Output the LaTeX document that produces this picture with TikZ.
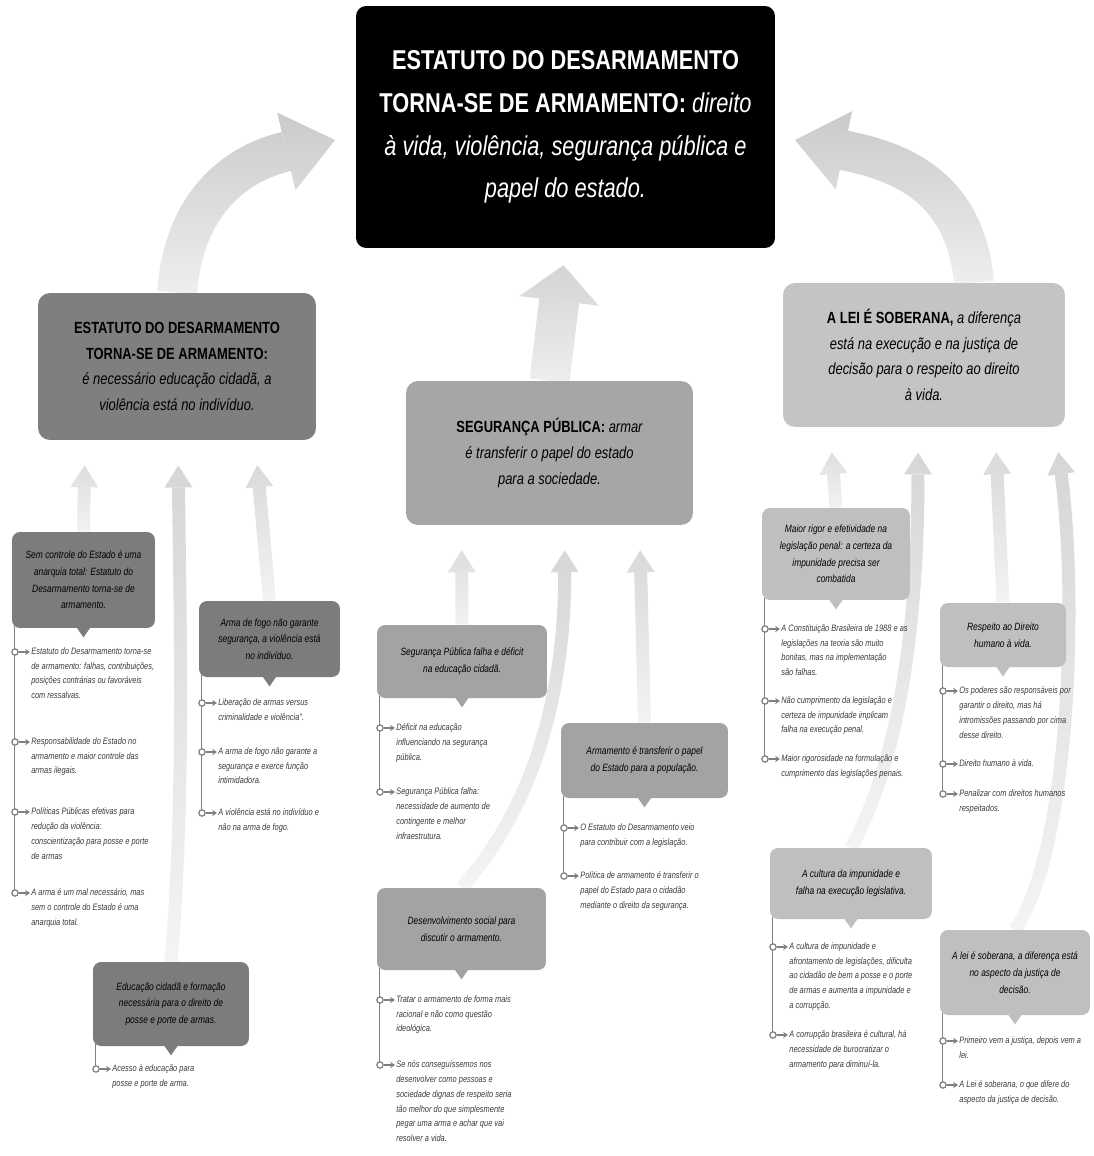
\documentclass[tikz,border=0pt]{standalone}
\usepackage{fontspec}
\setmainfont{Liberation Sans}[FakeStretch=0.8]
\usetikzlibrary{arrows.meta,calc,backgrounds,fadings}

\definecolor{leftfill}{HTML}{7F7F7F}
\definecolor{midfill}{HTML}{A6A6A6}
\definecolor{rightfill}{HTML}{C4C4C4}
\definecolor{subleft}{HTML}{7C7C7C}
\definecolor{submid}{HTML}{A3A3A3}
\definecolor{subright}{HTML}{BFBFBF}
\definecolor{arrowgray}{HTML}{CCCCCC}
\definecolor{linkgray}{HTML}{D4D4D4}
\definecolor{itemtext}{HTML}{3A3A3A}
\definecolor{stemgray}{HTML}{808080}

\tikzfading[name=upfade, top color=transparent!0, bottom color=transparent!75]

\tikzset{
  topbox/.style={fill=black, text=white, rounded corners=0.2cm, inner sep=0pt,
    minimum width=8.38cm, minimum height=4.84cm, align=center,
    font=\fontsize{15.5}{24.4}\selectfont},
  mainbox/.style={rounded corners=0.24cm, inner sep=0pt, align=center,
    minimum height=2.9cm, font=\fontsize{9.2}{14.7}\selectfont\itshape},
  subbox/.style={rounded corners=0.16cm, inner sep=0pt, align=center,
    font=\fontsize{6}{9.5}\selectfont\itshape},
  item/.style={anchor=north west, align=left, inner sep=0pt, text=itemtext,
    font=\fontsize{5.3}{8.5}\selectfont\itshape},
  stem/.style={draw=stemgray, line width=0.6pt},
  bul/.style={draw=stemgray, line width=0.7pt},
  bigarrow/.style={draw=arrowgray, line width=0.8cm, path fading=upfade,
    -{Triangle[length=1cm,width=1.6cm,line width=0pt]}},
  link/.style={draw=linkgray, line width=0.26cm, path fading=upfade,
    -{Triangle[length=0.44cm,width=0.56cm,line width=0pt]}, shorten >=0.5cm},
}

\begin{document}
\begin{tikzpicture}[x=0.02cm, y=-0.02cm]
  \useasboundingbox (0,0) rectangle (1093,1156);

  % main boxes
  \node[topbox] (tb) at (565.5,127) {\textbf{ESTATUTO DO DESARMAMENTO}\\\textbf{TORNA-SE DE ARMAMENTO:} \textit{direito}\\\textit{à vida, violência, segurança pública e}\\\textit{papel do estado.}};
  \node[mainbox, fill=leftfill, minimum width=5.56cm, minimum height=2.94cm] (lb) at (177,366.5) {\textup{\textbf{ESTATUTO DO DESARMAMENTO}}\\\textup{\textbf{TORNA-SE DE ARMAMENTO:}}\\é necessário educação cidadã, a\\violência está no indivíduo.};
  \node[mainbox, fill=midfill, minimum width=5.74cm, minimum height=2.88cm] (mb) at (549.5,453) {\textup{\textbf{SEGURANÇA PÚBLICA:}} armar\\é transferir o papel do estado\\para a sociedade.};
  \node[mainbox, fill=rightfill, minimum width=5.64cm, minimum height=2.88cm] (rb) at (924,355) {\textup{\textbf{A LEI É SOBERANA,}} a diferença\\está na execução e na justiça de\\decisão para o respeito ao direito\\à vida.};

  % sub boxes
  \node[subbox, fill=subleft, minimum width=2.86cm, minimum height=1.92cm] (s1) at (83.5,580) {Sem controle do Estado é uma\\anarquia total: Estatuto do\\Desarmamento torna-se de\\armamento.};
  \node[subbox, fill=subleft, minimum width=2.82cm, minimum height=1.52cm] (s2) at (269.5,639) {Arma de fogo não garante\\segurança, a violência está\\no indivíduo.};
  \node[subbox, fill=subleft, minimum width=3.12cm, minimum height=1.68cm] (s3) at (171,1004) {Educação cidadã e formação\\necessária para o direito de\\posse e porte de armas.};
  \node[subbox, fill=submid, minimum width=3.4cm, minimum height=1.46cm] (s4) at (462,661.5) {Segurança Pública falha e déficit\\na educação cidadã.};
  \node[subbox, fill=submid, minimum width=3.34cm, minimum height=1.5cm] (s5) at (644.5,760.5) {Armamento é transferir o papel\\do Estado para a população.};
  \node[subbox, fill=submid, minimum width=3.38cm, minimum height=1.64cm] (s6) at (461.5,929) {Desenvolvimento social para\\discutir o armamento.};
  \node[subbox, fill=subright, minimum width=2.96cm, minimum height=1.84cm] (s7) at (836,554) {Maior rigor e efetividade na\\legislação penal: a certeza da\\impunidade precisa ser\\combatida};
  \node[subbox, fill=subright, minimum width=2.52cm, minimum height=1.28cm] (s8) at (1003,635) {Respeito ao Direito\\humano à vida.};
  \node[subbox, fill=subright, minimum width=3.24cm, minimum height=1.42cm] (s9) at (851,883.5) {A cultura da impunidade e\\falha na execução legislativa.};
  \node[subbox, fill=subright, minimum width=3cm, minimum height=1.7cm] (s10) at (1015,972.5) {A lei é soberana, a diferença está\\no aspecto da justiça de\\decisão.};

  % pointers under the sub boxes
  \foreach \b/\c in {s1/subleft,s2/subleft,s3/subleft,s4/submid,s5/submid,s6/submid,s7/subright,s8/subright,s9/subright,s10/subright}
    \fill[\c] ($(\b.south)+(-7,-1)$) -- ($(\b.south)+(7,-1)$) -- ($(\b.south)+(0,9)$) -- cycle;

  % arrows behind everything
  \begin{scope}[on background layer]
    \draw[bigarrow] (lb.north) .. controls (185,190) and (250,160) .. (335,140);
    \draw[bigarrow] ($(rb.north)+(50,0)$) .. controls (965,180) and (890,160) .. (795,140);
    \draw[bigarrow, -{Triangle[length=0.72cm,width=1.6cm,line width=0pt]}, shorten >=0.34cm] (mb.north) -- (tb.south);

    \draw[link] (s1.north) -- ($(lb.south)+(-92,0)$);
    \draw[link] (s2.north) -- ($(lb.south)+(78,0)$);
    \draw[link] (s3.north) .. controls (185,800) and (180,620) .. ($(lb.south)+(1,0)$);
    \draw[link] (s4.north) -- ($(mb.south)+(-88,0)$);
    \draw[link] (s6.north) .. controls (540,800) and (565,680) .. ($(mb.south)+(15,0)$);
    \draw[link] (s5.north) -- ($(mb.south)+(90,0)$);
    \draw[link] (s7.north) -- ($(rb.south)+(-94,0)$);
    \draw[link] (s9.north) .. controls (905,750) and (918,600) .. ($(rb.south)+(-6,0)$);
    \draw[link] (s8.north) -- ($(rb.south)+(71,0)$);
    \draw[link] (s10.north) .. controls (1070,850) and (1078,600) .. ($(rb.south)+(131,0)$);
  \end{scope}

  % stems of the item lists
  \foreach \b/\y in {s1/893,s2/813,s3/1069,s4/792,s5/876,s6/1065,s7/759,s8/794,s9/1035,s10/1085}
    \draw[stem] ($(\b.south west)+(3,-2)$) -- ($(\b.south west |- 0,\y)+(3,0)$);

  \foreach \x/\y in {15/652,15/742,15/812,15/893,202/703,202/752,202/813,96/1069,
                     380/728,380/792,564/828,564/876,380/1000,380/1065,
                     765/629,765/701,765/759,943/691,943/764,943/794,773/947,773/1035,943/1041,943/1085}
  {
    \draw[bul, fill=white] (\x,\y) circle (1.8pt);
    \draw[bul, -{Stealth[length=2.8pt,width=3.6pt]}] (\x+3.5,\y) -- (\x+15,\y);
  }

  % items
  \node[item] (i1a) at (31,647) {Estatuto do Desarmamento torna-se\\de armamento: falhas, contribuições,\\posições contrárias ou favoráveis\\com ressalvas.};
  \node[item] (i1b) at (31,737) {Responsabilidade do Estado no\\armamento e maior controle das\\armas ilegais.};
  \node[item] (i1c) at (31,807) {Políticas Públicas efetivas para\\redução da violência:\\conscientização para posse e porte\\de armas};
  \node[item] (i1d) at (31,888) {A arma é um mal necessário, mas\\sem o controle do Estado é uma\\anarquia total.};

  \node[item] (i2a) at (218,698) {Liberação de armas versus\\criminalidade e violência”.};
  \node[item] (i2b) at (218,747) {A arma de fogo não garante a\\segurança e exerce função\\intimidadora.};
  \node[item] (i2c) at (218,808) {A violência está no indivíduo e\\não na arma de fogo.};

  \node[item] (i3a) at (112,1064) {Acesso à educação para\\posse e porte de arma.};

  \node[item] (i4a) at (396,723) {Déficit na educação\\influenciando na segurança\\pública.};
  \node[item] (i4b) at (396,787) {Segurança Pública falha:\\necessidade de aumento de\\contingente e melhor\\infraestrutura.};

  \node[item] (i5a) at (580,823) {O Estatuto do Desarmamento veio\\para contribuir com a legislação.};
  \node[item] (i5b) at (580,871) {Política de armamento é transferir o\\papel do Estado para o cidadão\\mediante o direito da segurança.};

  \node[item] (i6a) at (396,995) {Tratar o armamento de forma mais\\racional e não como questão\\ideológica.};
  \node[item] (i6b) at (396,1060) {Se nós conseguíssemos nos\\desenvolver como pessoas e\\sociedade dignas de respeito seria\\tão melhor do que simplesmente\\pegar uma arma e achar que vai\\resolver a vida.};

  \node[item] (i7a) at (781,624) {A Constituição Brasileira de 1988 e as\\legislações na teoria são muito\\bonitas, mas na implementação\\são falhas.};
  \node[item] (i7b) at (781,696) {Não cumprimento da legislação e\\certeza de impunidade implicam\\falha na execução penal.};
  \node[item] (i7c) at (781,754) {Maior rigorosidade na formulação e\\cumprimento das legislações penais.};

  \node[item] (i8a) at (959,686) {Os poderes são responsáveis por\\garantir o direito, mas há\\intromissões passando por cima\\desse direito.};
  \node[item] (i8b) at (959,759) {Direito humano à vida.};
  \node[item] (i8c) at (959,789) {Penalizar com direitos humanos\\respeitados.};

  \node[item] (i9a) at (789,942) {A cultura de impunidade e\\afrontamento de legislações, dificulta\\ao cidadão de bem a posse e o porte\\de armas e aumenta a impunidade e\\a corrupção.};
  \node[item] (i9b) at (789,1030) {A corrupção brasileira é cultural, há\\necessidade de burocratizar o\\armamento para diminuí-la.};

  \node[item] (i10a) at (959,1036) {Primeiro vem a justiça, depois vem a\\lei.};
  \node[item] (i10b) at (959,1080) {A Lei é soberana, o que difere do\\aspecto da justiça de decisão.};
\end{tikzpicture}
\end{document}
